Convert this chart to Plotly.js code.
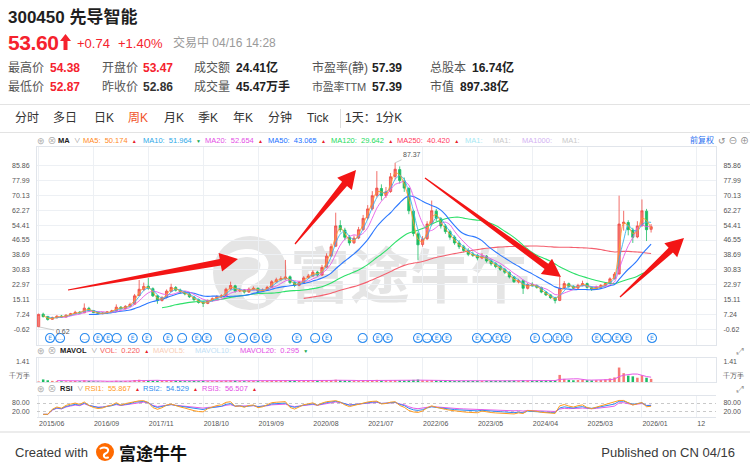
<!DOCTYPE html>
<html lang="zh">
<head>
<meta charset="utf-8">
<script src="https://cdn.plot.ly/plotly-3.0.1.min.js"></script>
<style>
html,body{margin:0;padding:0;background:#fff}
#page{position:relative;width:750px;height:473px;overflow:hidden;background:#fff;font-family:"Liberation Sans","Noto Sans CJK SC",sans-serif}
.t{position:absolute;white-space:nowrap;line-height:1}
#chart{position:absolute;left:0;top:0;width:750px;height:473px;z-index:1}
#wm{position:absolute;left:0;top:0;width:750px;height:473px;z-index:0}
#ov{position:absolute;left:0;top:0;width:750px;height:473px;z-index:2;pointer-events:none}
.hl{position:absolute;background:#e6e6e6}
</style>
</head>
<body>
<div id="page">
  <div id="wm">
    <svg style="position:absolute;left:212px;top:235px" width="76" height="76" viewBox="0 0 76 76">
      <circle cx="38" cy="38" r="37" fill="#e5e5e5"/>
      <path d="M20,22 C38,12 60,22 50,38 C44,48 30,44 34,58 C36,64 44,66 50,64" stroke="#fff" stroke-width="8" fill="none" stroke-linecap="round"/>
    </svg>
    <div class="t" style="left:290px;top:242px;font-size:60px;font-weight:bold;color:#e5e5e5;font-family:'Noto Sans CJK SC',sans-serif">富途牛牛</div>
  </div>
  <div id="chart"></div>
  <div id="ov"></div>
</div>
<script>
// ---------------- data ----------------
const tickLabels = ['2015/06','2016/09','2017/11','2018/10','2019/09','2020/08','2021/07','2022/06','2023/05','2024/04','2025/03','2026/01','12'];
const tickPeriods = [0,12,24,36,48,60,72,84,96,108,120,132,144];
const priceTicks = [85.86,77.99,70.13,62.27,54.41,46.55,38.69,30.83,22.97,15.11,7.24,-0.62];

const open = [0.7,7.3,6.1,4.6,5.4,6.3,5.8,6.9,7.5,8.4, 8.0,10.4,9.2,8.2,7.6,7.9,8.5,9.1,11.0,10.2,
 11.6,12.6,17.2,20.3,22.1,20.8,17.0,14.6,16.1,19.4, 21.4,20.0,19.1,18.0,16.4,15.0,13.6,13.0,14.4,15.6,
 16.4,17.1,20.6,22.3,19.6,20.1,19.0,20.4,21.0,19.5, 20.1,21.6,24.4,25.6,26.0,27.1,24.1,22.6,24.0,26.6,
 27.5,29.6,28.0,32.2,38.2,43.3,54.2,51.8,48.0,45.1, 47.6,52.1,58.2,63.1,70.2,73.8,70.1,72.2,80.2,83.8,
 77.8,73.8,61.8,49.8,44.2,47.2,55.2,61.8,57.8,54.0, 51.0,48.1,45.0,43.0,41.0,39.1,38.4,37.0,38.0,35.5,
 34.0,32.6,31.0,29.4,27.0,24.4,25.0,21.0,23.1,22.5, 21.4,19.0,17.5,16.0,14.6,21.2,23.4,22.0,21.1,22.4,
 23.5,21.4,20.6,21.5,22.6,23.6,26.1,28.6,55.2,55.8, 51.8,48.2,54.2,61.8,52.2];
const high = [7.6,8.1,6.4,6.0,6.8,6.9,7.2,8.0,9.1,8.9, 13.0,11.2,9.5,8.6,8.4,8.9,9.6,12.5,11.6,12.0,
 13.4,18.0,25.4,24.0,26.4,21.5,17.6,16.8,20.4,23.4, 22.2,20.8,19.6,18.6,17.0,15.6,14.2,15.1,16.2,17.3,
 17.8,21.3,24.5,22.9,21.0,20.6,21.4,22.0,21.4,20.9, 22.3,25.3,26.6,27.4,36.0,27.8,24.6,24.9,27.4,28.6,
 30.6,30.2,33.4,39.5,44.6,61.0,57.0,53.0,49.2,49.0, 53.5,59.8,65.0,72.4,83.0,76.0,74.6,82.0,87.37,85.5,
 79.6,74.5,62.6,51.0,48.6,56.5,67.4,63.0,58.6,55.0, 52.0,49.0,46.4,44.0,42.2,40.5,39.2,39.6,38.6,36.4,
 34.8,33.4,31.8,30.0,27.6,26.0,25.6,23.8,24.2,23.0, 21.9,19.5,18.0,16.5,27.0,24.8,24.0,22.6,23.4,25.0,
 24.0,22.0,22.4,23.2,24.3,26.8,29.6,70.0,62.0,57.0, 53.0,56.5,68.0,63.0,55.0];
const low = [0.62,5.6,3.9,4.3,5.1,5.4,5.6,6.5,7.2,7.6, 7.9,8.9,7.9,7.2,7.3,7.6,8.2,8.9,9.8,9.9,
 11.2,12.3,16.8,19.5,20.2,16.4,12.8,14.0,15.7,19.0, 19.3,18.2,17.3,15.9,14.3,12.9,11.1,12.6,14.0,15.2,
 15.9,16.8,20.1,18.7,19.0,18.2,18.6,20.0,18.9,19.1, 19.7,21.2,23.9,24.8,25.5,23.3,21.6,22.1,23.6,26.0,
 27.0,27.1,27.6,31.8,37.5,42.8,50.6,46.4,43.6,44.4, 47.0,51.4,57.3,62.2,69.0,67.5,68.8,71.5,78.6,76.4,
 72.0,60.2,48.5,36.0,43.0,46.5,54.3,56.5,52.6,49.8, 46.7,44.0,41.8,40.0,38.0,37.6,35.8,36.4,34.6,33.0,
 31.6,30.2,28.6,26.2,23.8,23.6,18.0,20.4,21.8,20.8, 18.4,16.9,15.4,13.0,14.2,20.5,21.2,20.2,20.6,22.0,
 20.8,19.6,20.1,21.0,22.1,23.2,25.7,28.2,51.5,49.0, 45.0,47.5,53.4,46.0,50.5];
const close = [7.2,6.0,4.5,5.5,6.2,5.8,6.8,7.5,8.3,8.0, 10.5,9.2,8.2,7.6,7.8,8.5,9.0,11.0,10.2,11.5,
 12.5,17.0,20.5,22.0,21.0,17.0,14.5,16.0,19.5,21.5, 20.0,19.0,18.0,16.5,15.0,13.5,13.0,14.5,15.5,16.5,
 17.0,20.5,22.5,19.5,20.0,19.0,20.5,21.0,19.5,20.0, 21.5,24.5,25.5,26.0,27.0,24.0,22.5,24.0,26.5,27.5,
 29.5,28.0,32.0,38.0,43.0,54.0,52.0,48.0,45.0,47.5, 52.0,58.0,63.0,70.0,74.0,70.0,72.0,80.0,84.0,78.0,
 74.0,62.0,50.0,44.0,47.0,55.0,62.0,58.0,54.0,51.0, 48.0,45.0,43.0,41.0,39.0,38.5,37.0,38.0,35.5,34.0,
 32.5,31.0,29.5,27.0,24.5,25.0,21.0,23.0,22.5,21.5, 19.0,17.5,16.0,14.5,21.0,23.5,22.0,21.0,22.5,23.5,
 21.5,20.5,21.5,22.5,23.5,26.0,28.5,55.0,56.0,52.0, 48.0,54.0,62.0,52.0,53.6];
const volume = [0.04,0.18,0.12,0.08,0.06,0.05,0.05,0.06,0.07,0.05, 0.12,0.08,0.05,0.04,0.04,0.05,0.05,0.09,0.06,0.07,
 0.08,0.14,0.16,0.12,0.13,0.10,0.09,0.07,0.10,0.11, 0.08,0.07,0.06,0.06,0.07,0.06,0.08,0.06,0.06,0.07,
 0.07,0.10,0.12,0.09,0.07,0.06,0.07,0.07,0.06,0.06, 0.07,0.10,0.09,0.08,0.14,0.09,0.07,0.07,0.08,0.08,
 0.09,0.08,0.11,0.14,0.13,0.16,0.12,0.10,0.09,0.09, 0.10,0.11,0.12,0.13,0.15,0.11,0.10,0.12,0.13,0.11,
 0.10,0.13,0.15,0.17,0.12,0.11,0.14,0.10,0.09,0.09, 0.09,0.08,0.08,0.08,0.08,0.07,0.08,0.07,0.08,0.08,
 0.08,0.08,0.09,0.10,0.10,0.09,0.12,0.10,0.09,0.09, 0.09,0.10,0.11,0.12,0.50,0.22,0.15,0.12,0.14,0.16,
 0.13,0.12,0.13,0.14,0.18,0.25,0.32,1.02,0.62,0.45, 0.40,0.30,0.48,0.30,0.22];
const eventPeriods = [2.5,4.7,10.1,13,15.2,17.1,20.6,23.7,28.3,31.4,34.6,36.8,41.9,44.7,47.3,49.9,56.5,60.5,63.1,70.9,74.2,76.4,83,85,87.1,89.3,95.9,98.1,100.3,102.3,108.6,111.3,113.5,115.7,122.1,124.3,126.5,128.7,134.2];
const eventMarks = ['E','…','…','E','E','…','E','E','E','…','E','E','E','…','E','E','E','…','E','…','E','E','E','…','E','E','E','…','E','E','E','…','E','E','E','…','E','E','E'];

// ---------------- derived indicators ----------------
const period = close.map((_, i) => i);
function movingAvg(src, n) {
  return src.map((_, i) => {
    if (i < n - 1) return null;
    let s = 0; for (let k = i - n + 1; k <= i; k++) s += src[k];
    return s / n;
  });
}
function rsiSeries(src, n) {
  let up = 0, dn = 0;
  return src.map((v, i) => {
    if (i === 0) return null;
    const d = v - src[i - 1];
    up = (Math.max(d, 0) + (n - 1) * up) / n;
    dn = (Math.abs(d) + (n - 1) * dn) / n;
    return dn === 0 ? 100 : 100 * up / dn;
  });
}

// ---------------- geometry ----------------
const XR = [-0.35, 148.2];
const YR = [-9.0, 95.75];
const PL = 37, PR = 716, PT = 147, PB = 417;
const H = PB - PT;
const dom = (top, bot) => [(PB - bot) / H, (PB - top) / H];
const MAIN_TOP = 147, MAIN_BOT = 345;
function toData(px, py) {
  return [XR[0] + (px - PL) / (PR - PL) * (XR[1] - XR[0]),
          YR[1] - (py - MAIN_TOP) / (MAIN_BOT - MAIN_TOP) * (YR[1] - YR[0])];
}
function arrowPath(tx, ty, hx, hy) {
  const dx = hx - tx, dy = hy - ty, L = Math.hypot(dx, dy);
  const ux = dx / L, uy = dy / L, nx = -uy, ny = ux;
  const hl = 18, hw = 9.5, sw = 3.2, tw = 0.6;
  const bx = hx - ux * hl, by = hy - uy * hl;
  const pts = [[tx + nx * tw, ty + ny * tw], [bx + nx * sw, by + ny * sw], [bx + nx * hw, by + ny * hw], [hx, hy],
               [bx - nx * hw, by - ny * hw], [bx - nx * sw, by - ny * sw], [tx - nx * tw, ty - ny * tw]];
  return 'M' + pts.map(p => toData(p[0], p[1]).map(v => v.toFixed(3)).join(',')).join(' L') + ' Z';
}

const UP = '#f67a74', UPL = '#ef4a44', DOWN = '#1cbc64';
const GRID = '#edf0f4', BORDER = '#e1e5eb';
const tickFont = {size: 7, color: '#555', family: 'Liberation Sans, sans-serif'};

const traces = [];
traces.push({type: 'candlestick', x: period, open: open, high: high, low: low, close: close,
  xaxis: 'x', yaxis: 'y', hoverinfo: 'skip', whiskerwidth: 0,
  increasing: {line: {color: UPL, width: 0.8}, fillcolor: UP},
  decreasing: {line: {color: DOWN, width: 0.8}, fillcolor: DOWN}});

const maDefs = [[59, '#f4606f', 1.1], [28, '#2ee06a', 1.1], [12, '#2c78ff', 1.1], [5, '#e65ae8', 0.9], [3, '#3ab3ec', 0.9], [2, '#ff9a2e', 0.9]];
maDefs.forEach(([n, c, w]) => traces.push({type: 'scatter', mode: 'lines', x: period, y: movingAvg(close, n),
  line: {color: c, width: w, shape: 'spline', smoothing: 0.8}, xaxis: 'x', yaxis: 'y', hoverinfo: 'skip', connectgaps: false}));

const eventY = YR[0] + 0.035 * (YR[1] - YR[0]);
traces.push({type: 'scatter', mode: 'markers+text', x: eventPeriods, y: eventPeriods.map(() => eventY),
  text: eventMarks, textposition: 'middle center', textfont: {size: 6, color: '#2d8cf0', family: 'DejaVu Sans'},
  marker: {symbol: 'circle', size: 9, color: '#ffffff', line: {color: '#2d8cf0', width: 1.1}},
  xaxis: 'x', yaxis: 'y', hoverinfo: 'skip', cliponaxis: false});

traces.push({type: 'bar', x: period, y: volume, width: 0.55,
  marker: {color: close.map((c, i) => c >= open[i] ? UP : DOWN)}, xaxis: 'x2', yaxis: 'y2', hoverinfo: 'skip'});
traces.push({type: 'scatter', mode: 'lines', x: period, y: movingAvg(volume, 5),
  line: {color: '#e65ae8', width: 1}, xaxis: 'x2', yaxis: 'y2', hoverinfo: 'skip'});

[[12, '#e65ae8'], [7, '#2f8cf0'], [4, '#ff9b1f']].forEach(([n, c]) => traces.push({type: 'scatter', mode: 'lines',
  x: period, y: rsiSeries(close, n), line: {color: c, width: 1}, xaxis: 'x3', yaxis: 'y3', hoverinfo: 'skip'}));

// dummy invisible points so the right-side axes get drawn
[['x', 'y4', YR[0]], ['x2', 'y5', 0], ['x3', 'y6', 50]].forEach(([xa, ya, yv]) => traces.push({type: 'scatter', mode: 'markers',
  x: [XR[0]], y: [yv], marker: {opacity: 0}, xaxis: xa, yaxis: ya, hoverinfo: 'skip'}));

const xBase = {range: XR, tickmode: 'array', tickvals: tickPeriods, showgrid: true, gridcolor: GRID,
  zeroline: false, showline: true, mirror: true, linecolor: BORDER, ticks: '', fixedrange: true};
const VOLR = [0, 1.692], RSIR = [-18.8, 129.4];
const volTicks = [1.41, 0.42], volText = ['1.41', '千万手'];
const rsiTicks = [80, 20], rsiText = ['80.00', '20.00'];
const yBase = {zeroline: false, tickmode: 'array', tickfont: tickFont, ticks: 'outside', ticklen: 5,
  tickcolor: 'rgba(0,0,0,0)', fixedrange: true};

const arrows = [[68, 290, 238, 259], [295, 244, 356, 170], [425, 178, 561, 277], [620, 297, 684, 238]];

const layout = {
  width: 750, height: 473, autosize: false,
  margin: {l: PL, r: 750 - PR, t: PT, b: 473 - PB, pad: 0},
  paper_bgcolor: 'rgba(0,0,0,0)', plot_bgcolor: 'rgba(0,0,0,0)',
  showlegend: false, hovermode: false,
  font: {family: 'Liberation Sans, Noto Sans CJK SC, sans-serif', size: 7, color: '#555'},
  xaxis: Object.assign({}, xBase, {anchor: 'y', showticklabels: false, rangeslider: {visible: false}}),
  xaxis2: Object.assign({}, xBase, {anchor: 'y2', showticklabels: false}),
  xaxis3: Object.assign({}, xBase, {anchor: 'y3', showticklabels: true, ticktext: tickLabels,
    ticklabelposition: 'outside right', tickfont: tickFont}),
  yaxis: Object.assign({}, yBase, {domain: dom(MAIN_TOP, MAIN_BOT), anchor: 'x', range: YR, tickvals: priceTicks,
    ticktext: priceTicks.map(v => v.toFixed(2)), showgrid: true, gridcolor: GRID, showline: true, mirror: true, linecolor: BORDER}),
  yaxis4: Object.assign({}, yBase, {overlaying: 'y', side: 'right', anchor: 'x', range: YR, tickvals: priceTicks,
    ticktext: priceTicks.map(v => v.toFixed(2)), showgrid: false}),
  yaxis2: Object.assign({}, yBase, {domain: dom(358, 382), anchor: 'x2', range: VOLR, tickvals: volTicks, ticktext: volText,
    showgrid: false, showline: true, mirror: true, linecolor: BORDER}),
  yaxis5: Object.assign({}, yBase, {overlaying: 'y2', side: 'right', anchor: 'x2', range: VOLR, tickvals: volTicks,
    ticktext: volText, showgrid: false}),
  yaxis3: Object.assign({}, yBase, {domain: dom(396, 417), anchor: 'x3', range: RSIR, tickvals: rsiTicks, ticktext: rsiText,
    showgrid: true, gridcolor: '#c9c9c9', griddash: 'dot', showline: false}),
  yaxis6: Object.assign({}, yBase, {overlaying: 'y3', side: 'right', anchor: 'x3', range: RSIR, tickvals: rsiTicks,
    ticktext: rsiText, showgrid: false}),
  shapes: arrows.map(a => ({type: 'path', xref: 'x', yref: 'y', path: arrowPath(a[0], a[1], a[2], a[3]),
    fillcolor: '#f31515', line: {width: 0}, layer: 'above'})),
  annotations: [
    {x: 78, y: 87.37, xref: 'x', yref: 'y', text: '87.37', showarrow: true, arrowhead: 0, arrowwidth: 0.6,
     arrowcolor: '#aaa', ax: 17, ay: -8, font: {size: 7, color: '#555'}},
    {x: 0, y: 0.62, xref: 'x', yref: 'y', text: '0.62', showarrow: true, arrowhead: 0, arrowwidth: 0.6,
     arrowcolor: '#aaa', ax: 24, ay: 5, font: {size: 7, color: '#555'}}
  ]
};

Plotly.newPlot('chart', traces, layout, {displayModeBar: false, staticPlot: true});

// ---------------- page text (header, tabs, legends, footer) ----------------
const ov = document.getElementById('ov');
function put(x, yc, html, size, color, weight, extra) {
  const d = document.createElement('div');
  d.className = 't';
  d.style.left = x + 'px';
  d.style.top = (yc - size / 2) + 'px';
  d.style.fontSize = size + 'px';
  d.style.color = color;
  if (weight) d.style.fontWeight = weight;
  if (extra) Object.assign(d.style, extra);
  d.innerHTML = html;
  ov.appendChild(d);
  return d;
}
function line(x, y, w, h, c) {
  const d = document.createElement('div');
  d.className = 'hl';
  Object.assign(d.style, {left: x + 'px', top: y + 'px', width: w + 'px', height: h + 'px'});
  if (c) d.style.background = c;
  ov.appendChild(d);
}
const RED = '#f5222d';
put(8, 17, '300450 先导智能', 17, '#1f1f1f', 'bold');
put(8, 42, '53.60', 21, RED, 'bold', {letterSpacing: '-0.4px'});
put(60, 42, '<svg width="11" height="16" viewBox="0 0 11 16"><polygon points="5.5,0 11,7 7.5,7 7.5,16 3.5,16 3.5,7 0,7" fill="#f5222d"/></svg>', 16, RED);
put(77, 43, '+0.74', 13, RED);
put(118, 43, '+1.40%', 13, RED);
put(173, 43, '交易中 04/16 14:28', 12, '#9a9a9a');

const statRows = [
  [68, [['最高价', 8, '54.38', 50, RED], ['开盘价', 102, '53.47', 143, RED], ['成交额', 194, '24.41亿', 236, '#222'],
        ['市盈率(静)', 312, '57.39', 372, '#222'], ['总股本', 430, '16.74亿', 472, '#222']]],
  [87, [['最低价', 8, '52.87', 50, RED], ['昨收价', 102, '52.86', 143, '#333'], ['成交量', 194, '45.47万手', 236, '#222'],
        ['市盈率TTM', 312, '57.39', 372, '#222'], ['市值', 430, '897.38亿', 460, '#222']]]
];
statRows.forEach(([y, items]) => items.forEach(([lab, lx, val, vx, vc]) => {
  const l = put(lx, y, lab, 12, '#555');
  if (lab.indexOf('TTM') >= 0) { l.style.fontSize = '11px'; l.style.letterSpacing = '-0.3px'; l.style.top = (y - 5.5) + 'px'; }
  put(vx, y, val, 12, vc, 'bold');
}));

line(0, 104, 750, 1, '#e3e3e3');
line(0, 132, 750, 1, '#e3e3e3');
line(340, 109, 1, 19, '#dddddd');
[['分时', 15], ['多日', 53], ['日K', 94], ['周K', 128, '#f0522a'], ['月K', 164], ['季K', 198], ['年K', 233],
 ['分钟', 268], ['Tick', 307], ['1天：1分K', 345]].forEach(([s, x, c]) => put(x, 118, s, 12, c || '#333'));

function legendRow(y, name, nameX, arrowX, items) {
  put(37, y, '⊛ ⊗', 9, '#aaa');
  put(nameX, y, name, 7.5, '#222', 'bold');
  put(arrowX, y, '∨', 6.5, '#888');
  items.forEach(([x, s, c, tri]) => {
    let h = '<span style="color:' + c + '">' + s + '</span>';
    if (tri) h += '&nbsp;&nbsp;<span style="color:' + (tri === '▲' ? '#e8202a' : '#12a84f') + ';font-size:5px">' + tri + '</span>';
    put(x, y, h, 7.5, c);
  });
}
legendRow(141, 'MA', 58, 74, [[83, 'MA5:&nbsp; 50.174', '#ff8a1e', '▲'], [143, 'MA10:&nbsp; 51.964', '#2fa9e8', '▼'],
  [205, 'MA20:&nbsp; 52.654', '#e34fe5', '▲'], [268, 'MA50:&nbsp; 43.065', '#2070ff', '▲'],
  [331, 'MA120:&nbsp; 29.642', '#23db5d', '▲'], [397, 'MA250:&nbsp; 40.420', '#ff3b5f', '▲'],
  [465, 'MA1:', '#a5e8f3'], [493, 'MA1:', '#c9c9c9'], [522, 'MA1000:', '#d3b2f2'], [562, 'MA1:', '#c9c9c9']]);
put(690, 141, '前复权', 8, '#2a6ef0');
put(718, 141, '↺ ⊖ ⊕', 9, '#888');
legendRow(351, 'MAVOL', 60, 91, [[100, 'VOL:&nbsp; 0.220', '#f65b5b', '▲'], [153, 'MAVOL5:', '#f8cdb6'],
  [195, 'MAVOL10:', '#bfe0f5'], [240, 'MAVOL20:&nbsp; 0.295', '#e34fe5', '▼']]);
legendRow(389, 'RSI', 60, 77, [[85, 'RSI1:&nbsp; 55.867', '#ff9b1f', '▲'], [143, 'RSI2:&nbsp; 54.529', '#2f8cf0', '▲'],
  [202, 'RSI3:&nbsp; 56.507', '#e34fe5', '▲']]);
put(737, 351, '⤢', 9, '#999');
put(737, 389, '⤢', 9, '#999');

line(0, 431, 750, 2, '#ececec');
put(15, 452, 'Created with', 13, '#3a3a3a');
put(96, 452, '<svg width="18" height="18" viewBox="0 0 18 18"><circle cx="9" cy="9" r="9" fill="#ff6a00"/><path d="M4.5,5.5 C9,3 14,5.5 11.5,9 C10,11 7,10.5 8,13.5 C8.5,15 10.5,15 12,14.5" stroke="#fff" stroke-width="2" fill="none" stroke-linecap="round"/></svg>', 18, '#ff6a00');
put(119, 452, '富途牛牛', 17, '#111', 'bold', {fontFamily: "'Noto Sans CJK SC', sans-serif"});
const pub = put(0, 452, 'Published on CN 04/16', 13, '#3a3a3a');
pub.style.left = ''; pub.style.right = '15px';
</script>
</body>
</html>
